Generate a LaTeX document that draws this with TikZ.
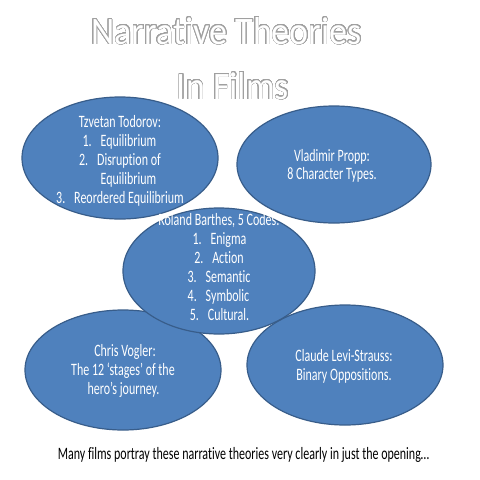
\documentclass[tikz,border=0pt]{standalone}
\usepackage{fontspec}
\setmainfont{Carlito}[Ligatures=NoCommon]
\usepackage{contour}
\usetikzlibrary{shapes.geometric}
\definecolor{ofblue}{RGB}{79,129,189}
\definecolor{ofborder}{RGB}{56,93,138}
\definecolor{titleline}{RGB}{160,160,160}
\contourlength{0.6pt}
\newcommand\tall[1]{\scalebox{1}[1.45]{#1}}
\newcommand\itm[2]{\tall{\makebox[18pt][l]{#1}#2}}
\newcommand\ttltext[1]{\scalebox{1}[1.08]{\contour[32]{titleline}{\textcolor{white}{#1}}}}
\tikzset{
  bubble/.style={ellipse, draw=ofborder, fill=ofblue, line width=1.2pt, inner sep=0pt},
  txt/.style={font=\fontsize{12}{14}\selectfont, text=white, inner sep=0pt, anchor=base},
  ttl/.style={font=\fontsize{36}{40}\selectfont, inner sep=0pt, anchor=base},
  foot/.style={font=\fontsize{12}{14}\selectfont, text=black, inner sep=0pt, anchor=base}
}
\begin{document}
\begin{tikzpicture}[x=1pt,y=-1pt]
\useasboundingbox[fill=white] (0,0) rectangle (480,480);
% title
\node[ttl] (t1) at (226.5,44) {\ttltext{Narrative Theories}};
\node[ttl] (t2) at (233,99) {\ttltext{In Films}};
% ellipses (stacking order as in the reference)
\node[bubble, minimum width=196pt, minimum height=120pt] (vogler) at (123,370) {};
\node[bubble, minimum width=196pt, minimum height=120pt] (levi) at (345,365) {};
\node[bubble, minimum width=192pt, minimum height=126pt] (barthes) at (219,271) {};
\node[bubble, minimum width=196pt, minimum height=122pt] (todorov) at (120,158) {};
\node[bubble, minimum width=194pt, minimum height=117pt] (propp) at (334,164.5) {};
% Todorov text
\node[txt] (tod0) at (120,127) {\tall{Tzvetan Todorov:}};
\node[txt] (tod1) at (119.5,146) {\itm{1.}{Equilibrium}};
\node[txt] (tod2) at (120,165) {\itm{2.}{Disruption of}};
\node[txt] (tod3) at (128.5,184) {\tall{Equilibrium}};
\node[txt] (tod4) at (120,203) {\itm{3.}{Reordered Equilibrium}};
% Propp text
\node[txt] (pro0) at (332,161) {\tall{Vladimir Propp:}};
\node[txt] (pro1) at (332,179) {\tall{8 Character Types.}};
% Barthes text
\node[txt] (bar0) at (219,225.5) {\tall{Roland Barthes, 5 Codes:}};
\node[txt] (bar1) at (219.5,244) {\itm{1.}{Enigma}};
\node[txt] (bar2) at (219,263) {\itm{2.}{Action}};
\node[txt] (bar3) at (219,282) {\itm{3.}{Semantic}};
\node[txt] (bar4) at (218.5,301) {\itm{4.}{Symbolic}};
\node[txt] (bar5) at (219.5,320) {\itm{5.}{Cultural.}};
% Vogler text
\node[txt] (vog0) at (125,356) {\tall{Chris Vogler:}};
\node[txt] (vog1) at (123,375) {\tall{The 12 ‘stages’ of the}};
\node[txt] (vog2) at (123.5,394) {\tall{hero’s journey.}};
% Levi-Strauss text
\node[txt] (lev0) at (344,361) {\tall{Claude Levi-Strauss:}};
\node[txt] (lev1) at (344,380) {\tall{Binary Oppositions.}};
% footer
\node[foot] (foot) at (243.5,459) {\tall{Many films portray these narrative theories very clearly in just the opening\ldots}};
\end{tikzpicture}
\end{document}
